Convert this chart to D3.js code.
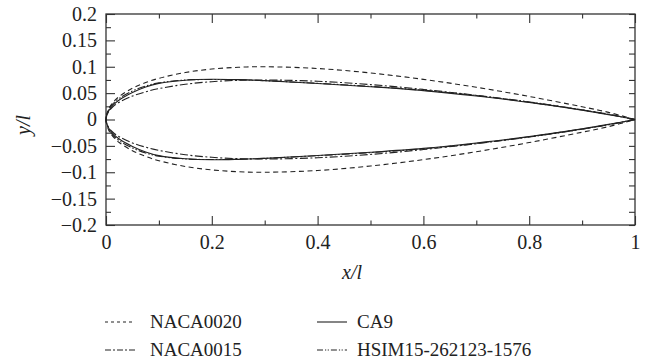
<!DOCTYPE html>
<html>
<head>
<meta charset="utf-8">
<script src="https://cdn.jsdelivr.net/npm/d3@7"></script>
<style>
  body { margin: 0; background: #fff; }
</style>
</head>
<body>
<svg id="chart" width="654" height="362"></svg>
<script>
// chord stations and half-thickness (upper surface, lower is mirrored)
const xStations = [0, 0.005, 0.0125, 0.025, 0.05, 0.075, 0.1, 0.15, 0.2, 0.25, 0.3, 0.4, 0.5, 0.6, 0.7, 0.8, 0.9, 0.95, 1];
const naca0020 = [0, 0.020, 0.0316, 0.0436, 0.0593, 0.070, 0.0781, 0.0891, 0.0956, 0.0990, 0.1000, 0.0967, 0.0882, 0.0761, 0.0611, 0.0437, 0.0241, 0.0135, 0];
const naca0015 = [0, 0.015, 0.0237, 0.0327, 0.0444, 0.0525, 0.0585, 0.0668, 0.0717, 0.0743, 0.0750, 0.0725, 0.0662, 0.0570, 0.0458, 0.0328, 0.0181, 0.0101, 0];
const ca9 = [0, 0.016, 0.0265, 0.037, 0.051, 0.0615, 0.0685, 0.0745, 0.0763, 0.0755, 0.0737, 0.0683, 0.0622, 0.0548, 0.0445, 0.0325, 0.0178, 0.0093, 0];
const hsim = [0, 0.018, 0.029, 0.040, 0.054, 0.0635, 0.0695, 0.0748, 0.0758, 0.0752, 0.0736, 0.0686, 0.0627, 0.0555, 0.0455, 0.0333, 0.0183, 0.0096, 0];

const seriesNames = ["NACA0020", "NACA0015", "CA9", "HSIM15-262123-1576"];
const seriesData = [naca0020, naca0015, ca9, hsim];
const seriesDash = ["5,3.5", "8,2.5,2,2.5", null, "8,2,1.5,2,1.5,2"];
const legendDash = ["3,3", "6,2,2,2", null, "6,2,1.2,1.5,1.2,2"];

const xTicks = [0, 0.2, 0.4, 0.6, 0.8, 1];
const xTickLabels = ["0", "0.2", "0.4", "0.6", "0.8", "1"];
const xMinor = [0.1, 0.3, 0.5, 0.7, 0.9];
const yTicks = [0.2, 0.15, 0.1, 0.05, 0, -0.05, -0.1, -0.15, -0.2];
const yTickLabels = ["0.2", "0.15", "0.1", "0.05", "0", "\u22120.05", "\u22120.1", "\u22120.15", "\u22120.2"];
const yMinor = [0.175, 0.125, 0.075, 0.025, -0.025, -0.075, -0.125, -0.175];

const FONT = "'Liberation Serif'";

const margin = { top: 14, right: 19, bottom: 137, left: 106 };
const width = 654 - margin.left - margin.right,
      height = 362 - margin.top - margin.bottom;

const svg = d3.select("#chart");
const g = svg.append("g").attr("transform", "translate(" + margin.left + "," + margin.top + ")");

const x = d3.scaleLinear().domain([0, 1]).range([0, width]);
const y = d3.scaleLinear().domain([-0.2, 0.2]).range([height, 0]);

// axes - ticks point inward
function styleAxis(sel) {
    sel.select(".domain").remove();
    sel.selectAll("line").attr("stroke", "#333").attr("stroke-width", 1.1);
    sel.selectAll("text")
        .style("font-family", FONT).style("font-size", "20px").style("fill", "#222");
}

g.append("g").attr("transform", "translate(0," + height + ")")
    .call(d3.axisBottom(x).tickValues(xTicks).tickSize(-9).tickPadding(10)
        .tickFormat((d, i) => xTickLabels[i]))
    .call(styleAxis);
g.append("g").attr("transform", "translate(0," + height + ")")
    .call(d3.axisBottom(x).tickValues(xMinor).tickSize(-4.5).tickFormat(""))
    .call(styleAxis);
g.append("g")
    .call(d3.axisTop(x).tickValues(xTicks).tickSize(-9).tickFormat(""))
    .call(styleAxis);
g.append("g")
    .call(d3.axisTop(x).tickValues(xMinor).tickSize(-4.5).tickFormat(""))
    .call(styleAxis);

g.append("g")
    .call(d3.axisLeft(y).tickValues(yTicks).tickSize(-9).tickPadding(9)
        .tickFormat((d, i) => yTickLabels[i]))
    .call(styleAxis);
g.append("g")
    .call(d3.axisLeft(y).tickValues(yMinor).tickSize(-5).tickFormat(""))
    .call(styleAxis);
g.append("g").attr("transform", "translate(" + width + ",0)")
    .call(d3.axisRight(y).tickValues(yTicks).tickSize(-6).tickFormat(""))
    .call(styleAxis);
g.append("g").attr("transform", "translate(" + width + ",0)")
    .call(d3.axisRight(y).tickValues(yMinor).tickSize(-6).tickFormat(""))
    .call(styleAxis);

// frame
g.append("rect")
    .attr("width", width).attr("height", height)
    .attr("fill", "none").attr("stroke", "#333").attr("stroke-width", 1.3);

// airfoil contours: trailing edge -> upper -> leading edge -> lower -> trailing edge
const line = d3.line()
    .x(d => x(d[0]))
    .y(d => y(d[1]))
    .curve(d3.curveCatmullRom.alpha(0.5));

function contour(vals) {
    let pts = [];
    for (let i = xStations.length - 1; i >= 0; i--) pts.push([xStations[i], vals[i]]);
    for (let i = 1; i < xStations.length; i++) pts.push([xStations[i], -vals[i]]);
    return pts;
}

g.append("g").attr("class", "data")
    .selectAll("path")
    .data(seriesData)
    .enter().append("path")
    .attr("d", d => line(contour(d)))
    .attr("fill", "none")
    .attr("stroke", "#222")
    .attr("stroke-width", 1.1)
    .attr("stroke-dasharray", (d, i) => seriesDash[i]);

// axis titles
svg.append("text")
    .attr("x", 352).attr("y", 279)
    .attr("text-anchor", "middle")
    .style("font-family", FONT).style("font-size", "20px").style("font-style", "italic")
    .style("fill", "#222")
    .text("x/l");

svg.append("text")
    .attr("transform", "translate(30,125) rotate(-90)")
    .attr("text-anchor", "middle")
    .style("font-family", FONT).style("font-size", "20px").style("font-style", "italic")
    .style("fill", "#222")
    .text("y/l");

// legend
const legendPos = [[105, 322], [105, 350], [317, 322], [317, 350]];
const legendText = [150, 150, 357, 357];
const legend = svg.append("g").attr("class", "legend")
    .selectAll("g")
    .data(seriesNames)
    .enter().append("g");

legend.append("line")
    .attr("x1", (d, i) => legendPos[i][0])
    .attr("x2", (d, i) => legendPos[i][0] + 30)
    .attr("y1", (d, i) => legendPos[i][1])
    .attr("y2", (d, i) => legendPos[i][1])
    .attr("stroke", "#222").attr("stroke-width", 1.1)
    .attr("stroke-dasharray", (d, i) => legendDash[i]);

legend.append("text")
    .attr("x", (d, i) => legendText[i])
    .attr("y", (d, i) => legendPos[i][1] + 6)
    .style("font-family", FONT).style("font-size", "19px").style("fill", "#222")
    .text(d => d);
</script>
</body>
</html>
